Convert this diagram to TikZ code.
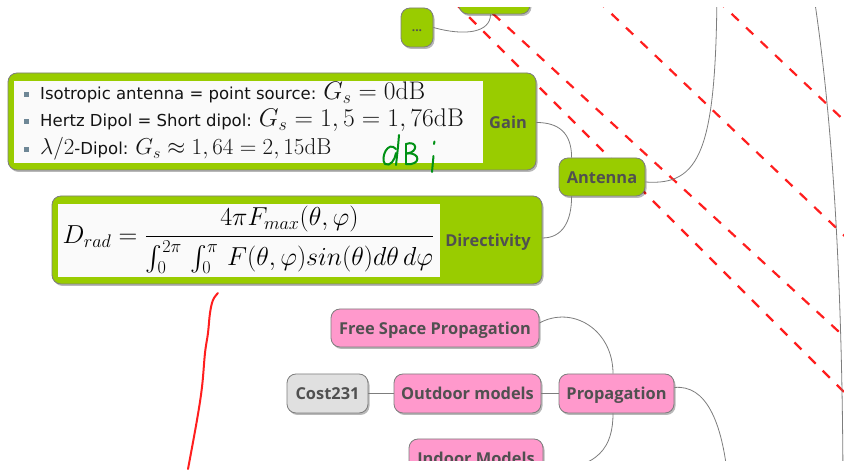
\documentclass[tikz,border=0pt]{standalone}
\usepackage{amsmath}
\usepackage{fix-cm}
\usepackage{fontspec}
\newfontfamily\lblfont{Open Sans}
\newfontfamily\bulfont{DejaVu Sans}
\usetikzlibrary{shadows,calc}

\definecolor{mmgreen}{RGB}{153,204,0}
\definecolor{mmpink}{RGB}{255,153,204}
\definecolor{mmgrey}{RGB}{224,224,224}
\definecolor{mmborder}{RGB}{125,125,125}
\definecolor{mmtext}{RGB}{80,80,80}
\definecolor{mmedge}{RGB}{125,125,125}
\definecolor{bulletcol}{RGB}{110,135,150}
\definecolor{panelwhite}{RGB}{250,250,250}
\definecolor{penred}{RGB}{255,30,30}
\definecolor{pengreen}{RGB}{0,145,20}

% large math inside the bullet lines
\newcommand\gainmath[2][23]{{\fontsize{#1}{27}\selectfont$#2$}}

\begin{document}
\begin{tikzpicture}[x=1pt,y=-1pt,
  topic/.style={draw=mmborder, line width=0.8pt, rounded corners=9pt, inner sep=0pt,
     drop shadow={shadow xshift=1.5pt, shadow yshift=-2pt, fill=black, opacity=0.28},
     font=\lblfont\bfseries\fontsize{16.4}{19}\selectfont, text=mmtext,
     text height=12.4pt, text depth=0pt},
  greentopic/.style={topic, fill=mmgreen},
  pinktopic/.style={topic, fill=mmpink},
  greytopic/.style={topic, fill=mmgrey},
  boxlabel/.style={inner sep=0pt, font=\lblfont\bfseries\fontsize{16.4}{19}\selectfont,
     text=mmtext, text height=12.4pt, text depth=0pt},
  panel/.style={fill=panelwhite, inner sep=0pt},
  branch/.style={draw=mmedge, line width=0.8pt},
  hatch/.style={draw=penred, line width=2.2pt, dash pattern=on 10pt off 10pt},
  ink/.style={line width=2pt, line cap=round, line join=round},
  bulletsq/.style={fill=bulletcol, minimum size=5pt, inner sep=0pt},
  itemtext/.style={anchor=base west, inner sep=0pt,
     font=\bulfont\fontsize{16.5}{20}\selectfont, text=black!92}
]
\useasboundingbox (0,0) rectangle (844,470);

\begin{scope}
\clip (0,8) rectangle (844,460);

% red dashed hatching, lying under the topics
\draw[hatch] (455,3) -- (850,398);
\draw[hatch] (478,0) -- (850,342);
\draw[hatch] (597,0) -- (850,241);
\draw[hatch] (717,0) -- (850,126);

% loose ends of branches leaving the view
\coordinate (antup) at (717,-10);
\coordinate (rootA) at (813,-10);
\coordinate (rootB) at (843,480);
\coordinate (propdown) at (728,480);

% topics
\node[greentopic, minimum width=71pt, minimum height=38pt] (top) at (494.5,-5) {};
\node[greentopic, minimum width=32pt, minimum height=39pt,
      font=\lblfont\bfseries\fontsize{12}{13}\selectfont, text height=8pt] (dots) at (417,27.5) {...};

\node[greentopic, minimum width=528pt, minimum height=97pt] (gainbox) at (272,121.5) {};
\node[panel, minimum width=469pt, minimum height=82pt] (gainpanel) at (248.5,122) {};
\node[boxlabel] (gainlbl) at (508,122) {Gain};

\node[bulletsq] (b1) at (26,95) {};
\node[bulletsq] (b2) at (26,122) {};
\node[bulletsq] (b3) at (26,150) {};
\node[itemtext] (t1) at (40,100) {Isotropic antenna = point source: \gainmath[25.4]{G_s=0\mathrm{dB}}};
\node[itemtext] (t2) at (40,127) {Hertz Dipol = Short dipol: \gainmath[25.6]{G_s=1,5=1,76\mathrm{dB}}};
\node[itemtext] (t3) at (40,155) {\gainmath{\lambda/2}-Dipol: \gainmath{G_s\approx 1,64=2,15\mathrm{dB}}};

\node[greentopic, minimum width=86pt, minimum height=38pt] (ant) at (602,177) {Antenna};

\node[greentopic, minimum width=490pt, minimum height=88pt] (dirbox) at (297,240) {};
\node[panel, minimum width=382pt, minimum height=73pt] (dirpanel) at (249,240.5) {};
\node[boxlabel] (dirlbl) at (488,240) {Directivity};
\node[inner sep=0pt, font=\fontsize{26}{30}\selectfont] (dform) at (248.5,240)
  {$\displaystyle D_{rad}=\frac{4\pi F_{max}(\theta,\varphi)}{\int_0^{2\pi}\,\int_0^{\pi}\,F(\theta,\varphi)sin(\theta)d\theta\,d\varphi}$};

\node[pinktopic, minimum width=208pt, minimum height=38pt] (free) at (435,328) {Free Space Propagation};
\node[greytopic, minimum width=81pt, minimum height=39pt] (cost) at (327.5,393.5) {Cost231};
\node[pinktopic, minimum width=147pt, minimum height=39pt] (outdoor) at (467.5,393.5) {Outdoor models};
\node[pinktopic, minimum width=115pt, minimum height=39pt] (prop) at (616.5,393.5) {Propagation};
\node[pinktopic, minimum width=134pt, minimum height=38pt] (indoor) at (476,458) {Indoor Models};

% branches
\draw[branch] (dots.east) .. controls +(32,9) and +(0,18) .. ([xshift=-4pt]top.south);
\draw[branch] ([yshift=-1pt]gainbox.east) .. controls +(22,0) and +(0,-25) .. ([xshift=13pt]ant.north west);
\draw[branch] ([yshift=2pt]dirbox.east) .. controls +(20,0) and +(0,25) .. ([xshift=13pt]ant.south west);
\draw[branch] ([yshift=-5pt]ant.east) .. controls +(55,4) and +(-1,160) .. (antup);
\draw[branch] (rootA) .. controls +(17,110) and +(-1,-230) .. (rootB);
\draw[branch] ([yshift=5pt]free.east) .. controls +(33,-18) and +(0,-44) .. ([xshift=-3.5pt]prop.north);
\draw[branch] (cost.east) -- (outdoor.west);
\draw[branch] (outdoor.east) -- (prop.west);
\draw[branch] ([xshift=-3.5pt]prop.south) .. controls +(0,32) and +(57,0) .. ([yshift=-12pt]indoor.east);
\draw[branch] ([yshift=6pt]prop.east) .. controls +(31,-3) and +(-6,-60) .. (propdown);
\end{scope}

% handwritten red stroke
\draw[ink, penred] plot[smooth, tension=0.6] coordinates
  {(218,293) (213,300) (210,313) (208,333) (205,353) (202,387) (197,420) (188,469)};

% handwritten green "dB;"
\draw[ink, pengreen] (396,149) .. controls (388,140) and (380,158) .. (385,164)
   .. controls (390,167) and (395,160) .. (396,153);
\draw[ink, pengreen] (399,135) .. controls (398,148) and (397,156) .. (396,165);
\draw[ink, pengreen] (406,144) -- (406,164);
\draw[ink, pengreen] (406,144) .. controls (417,140) and (419,152) .. (407,153.5);
\draw[ink, pengreen] (407,153.5) .. controls (421,152) and (421,166) .. (406,164);
\draw[ink, pengreen] (434.5,141.5) -- (434,144);
\draw[ink, pengreen] (433.5,156) -- (432,172);
\end{tikzpicture}
\end{document}
